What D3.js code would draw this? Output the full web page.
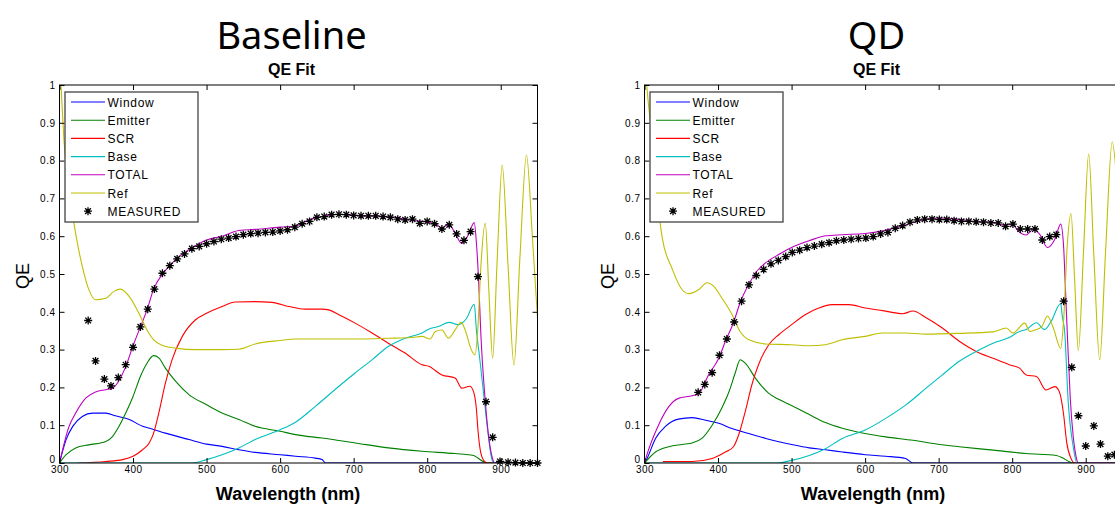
<!DOCTYPE html>
<html><head><meta charset="utf-8">
<script src="https://cdn.jsdelivr.net/npm/d3@7"></script>
<style>body{margin:0;background:#fff;} svg{display:block;}</style>
</head><body><svg id="c" width="1115" height="506"></svg>
<script>
// ---------- text / ticks ----------
const panelTitles = ["Baseline", "QD"];
const subTitle = "QE Fit";
const xLabel = "Wavelength (nm)";
const yLabel = "QE";
const seriesNames = ["Window", "Emitter", "SCR", "Base", "TOTAL", "Ref"];
const measuredName = "MEASURED";
const xTicks = [300, 400, 500, 600, 700, 800, 900];
const xTickLabels = ["300", "400", "500", "600", "700", "800", "900"];
const yTicks = [0, 0.1, 0.2, 0.3, 0.4, 0.5, 0.6, 0.7, 0.8, 0.9, 1];
const yTickLabels = ["0", "0.1", "0.2", "0.3", "0.4", "0.5", "0.6", "0.7", "0.8", "0.9", "1"];
const xDomain = [300, 950];
const yDomain = [0, 1];

// ---------- Baseline panel data [wavelength nm, QE] ----------
const baselineWindow = [[300,0],[309,0.062],[318,0.097],[331,0.123],[345,0.132],[363,0.132],[376,0.125],[395,0.115],[413,0.097],[426,0.09],[444,0.079],[476,0.062],[500,0.05],[521,0.044],[544,0.035],[566,0.028],[600,0.022],[621,0.018],[648,0.013],[657,0.009],[662,0],[950,0]];
const baselineEmitter = [[300,0],[309,0.022],[322,0.04],[340,0.048],[363,0.057],[372,0.07],[381,0.097],[390,0.132],[400,0.176],[410,0.229],[419,0.264],[428,0.284],[435,0.278],[444,0.251],[458,0.216],[476,0.181],[500,0.154],[521,0.132],[544,0.115],[566,0.097],[600,0.084],[621,0.075],[657,0.066],[702,0.053],[747,0.04],[793,0.031],[838,0.025],[863,0.02],[869,0.013],[878,0.002],[882,0],[950,0]];
const baselineSCR = [[325,0],[363,0.004],[386,0.009],[400,0.018],[413,0.035],[422,0.053],[428,0.079],[435,0.132],[444,0.211],[453,0.273],[467,0.335],[485,0.379],[500,0.396],[521,0.414],[539,0.426],[566,0.427],[589,0.425],[612,0.414],[634,0.407],[657,0.407],[666,0.405],[680,0.392],[702,0.37],[725,0.344],[747,0.317],[770,0.291],[793,0.26],[802,0.256],[820,0.233],[838,0.225],[847,0.198],[858,0.203],[863,0.189],[867,0.141],[869,0.088],[873,0.026],[878,0.004],[882,0],[950,0]];
const baselineBase = [[300,0],[480,0],[500,0.009],[521,0.022],[544,0.04],[566,0.062],[600,0.088],[621,0.108],[648,0.15],[680,0.203],[702,0.238],[725,0.273],[747,0.308],[770,0.33],[793,0.344],[802,0.354],[815,0.361],[830,0.372],[842,0.366],[853,0.381],[864,0.42],[867,0.35],[870,0.3],[873,0.25],[878,0.16],[883,0.075],[887,0.018],[890,0],[950,0]];
const baselineTotal = [[300,0],[313,0.097],[322,0.132],[336,0.172],[349,0.188],[363,0.194],[372,0.198],[380,0.215],[390,0.255],[400,0.31],[410,0.36],[419,0.405],[428,0.46],[440,0.5],[451,0.524],[460,0.542],[476,0.564],[500,0.59],[521,0.6],[544,0.615],[566,0.618],[600,0.624],[621,0.627],[639,0.643],[657,0.652],[680,0.658],[702,0.655],[747,0.652],[770,0.645],[793,0.639],[811,0.633],[820,0.621],[829,0.633],[838,0.608],[847,0.581],[856,0.604],[864,0.636],[867,0.58],[870,0.48],[873,0.34],[879,0.163],[883,0.079],[888,0.018],[892,0],[950,0]];
const baselineRef = [[300,1.06],[302,1.0],[306,0.855],[313,0.72],[320,0.63],[325,0.575],[331,0.52],[340,0.458],[349,0.432],[363,0.436],[374,0.454],[383,0.46],[395,0.44],[408,0.396],[419,0.352],[428,0.326],[440,0.311],[458,0.304],[485,0.3],[521,0.3],[544,0.301],[566,0.315],[600,0.324],[621,0.328],[657,0.328],[702,0.328],[747,0.33],[779,0.332],[793,0.335],[804,0.328],[811,0.348],[820,0.352],[829,0.33],[838,0.352],[846,0.372],[853,0.344],[858,0.31],[865,0.286],[869,0.36],[873,0.52],[879,0.634],[884,0.45],[889,0.277],[895,0.53],[902,0.788],[910,0.52],[918,0.259],[926,0.54],[935,0.815],[943,0.6],[951,0.352]];
const baselineMeasured = [[339,0.377],[349,0.27],[361,0.222],[370,0.204],[380,0.226],[390,0.26],[400,0.306],[410,0.36],[420,0.407],[429,0.46],[440,0.502],[450,0.522],[460,0.54],[470,0.553],[480,0.567],[490,0.573],[500,0.58],[510,0.586],[520,0.592],[530,0.595],[540,0.599],[550,0.604],[560,0.607],[570,0.608],[580,0.61],[590,0.611],[600,0.614],[610,0.617],[620,0.624],[630,0.633],[640,0.639],[650,0.65],[660,0.652],[670,0.657],[680,0.658],[690,0.657],[700,0.655],[710,0.654],[720,0.654],[730,0.654],[740,0.652],[750,0.65],[760,0.645],[770,0.643],[780,0.645],[790,0.634],[800,0.639],[810,0.633],[820,0.619],[830,0.63],[840,0.606],[850,0.589],[859,0.612],[869,0.493],[880,0.162],[889,0.068],[899,0.004],[910,0.002],[920,0.001],[930,0],[940,0],[950,0]];

// ---------- QD panel data [wavelength nm, QE] ----------
const qdWindow = [[300,0],[303,0.01],[315,0.065],[328,0.096],[346,0.116],[365,0.12],[383,0.113],[401,0.105],[419,0.091],[442,0.078],[465,0.065],[500,0.049],[524,0.04],[546,0.035],[569,0.029],[600,0.022],[628,0.018],[655,0.012],[665,0],[950,0]];
const qdEmitter = [[300,0],[315,0.029],[333,0.043],[351,0.049],[365,0.053],[378,0.065],[392,0.1],[405,0.145],[415,0.189],[424,0.242],[430,0.273],[437,0.264],[451,0.224],[469,0.184],[483,0.168],[500,0.152],[524,0.128],[546,0.107],[569,0.092],[600,0.078],[628,0.069],[665,0.06],[701,0.049],[728,0.043],[774,0.034],[819,0.025],[860,0.02],[869,0.013],[878,0.003],[882,0],[950,0]];
const qdSCR = [[325,0.004],[365,0.004],[392,0.012],[410,0.029],[421,0.043],[428,0.074],[437,0.136],[446,0.207],[455,0.26],[469,0.313],[483,0.34],[500,0.366],[519,0.393],[537,0.41],[555,0.419],[578,0.419],[600,0.41],[624,0.403],[651,0.395],[665,0.402],[683,0.384],[705,0.357],[728,0.322],[751,0.295],[774,0.277],[796,0.26],[810,0.251],[819,0.233],[833,0.229],[846,0.193],[858,0.202],[864,0.189],[870,0.127],[874,0.056],[880,0.012],[885,0],[950,0]];
const qdBase = [[300,0],[480,0],[500,0.007],[524,0.02],[546,0.038],[569,0.065],[600,0.087],[628,0.118],[655,0.153],[683,0.198],[705,0.233],[728,0.269],[751,0.295],[774,0.317],[796,0.332],[810,0.348],[819,0.353],[833,0.371],[844,0.353],[853,0.375],[866,0.422],[868,0.39],[871.5,0.344],[876,0.167],[883,0.043],[888,0],[950,0]];
const qdTotal = [[300,0],[303,0.02],[319,0.1],[333,0.149],[346,0.171],[365,0.178],[374,0.184],[387,0.233],[401,0.277],[410,0.322],[421,0.371],[430,0.424],[442,0.473],[453,0.508],[465,0.53],[483,0.552],[500,0.57],[524,0.588],[546,0.601],[569,0.604],[600,0.607],[624,0.614],[646,0.625],[665,0.636],[683,0.645],[701,0.648],[728,0.644],[751,0.639],[774,0.637],[787,0.63],[800,0.632],[808,0.614],[819,0.603],[828,0.617],[837,0.606],[848,0.57],[858,0.592],[866,0.632],[870,0.57],[872,0.48],[875,0.34],[879,0.17],[883,0.07],[886,0.026],[890,0],[950,0]];
const qdRef = [[300,1.08],[303,1.0],[308,0.898],[315,0.75],[321,0.64],[324,0.597],[337,0.517],[351,0.459],[360,0.448],[374,0.459],[385,0.477],[394,0.468],[405,0.437],[419,0.393],[430,0.348],[442,0.326],[465,0.315],[500,0.313],[524,0.31],[546,0.313],[569,0.326],[600,0.335],[624,0.344],[655,0.344],[683,0.341],[728,0.343],[774,0.347],[792,0.357],[801,0.344],[817,0.37],[824,0.348],[831,0.352],[840,0.36],[848,0.389],[856,0.357],[866,0.303],[870,0.38],[875,0.58],[880,0.66],[885,0.48],[890,0.297],[897,0.56],[904,0.818],[911,0.55],[919,0.273],[927,0.56],[936,0.85],[943,0.72],[950,0.45]];
const qdMeasured = [[373,0.187],[382,0.208],[392,0.239],[402,0.285],[412,0.328],[422,0.373],[432,0.428],[442,0.471],[452,0.496],[462,0.512],[472,0.527],[482,0.536],[492,0.546],[501,0.557],[511,0.563],[521,0.57],[531,0.574],[541,0.579],[551,0.583],[561,0.588],[571,0.59],[581,0.592],[591,0.594],[601,0.595],[611,0.599],[621,0.606],[631,0.61],[641,0.621],[651,0.628],[661,0.637],[671,0.643],[681,0.645],[691,0.645],[701,0.644],[711,0.644],[721,0.641],[731,0.639],[741,0.639],[751,0.638],[761,0.637],[771,0.635],[781,0.635],[791,0.626],[801,0.632],[811,0.619],[821,0.619],[831,0.619],[841,0.59],[851,0.599],[860,0.604],[870,0.428],[881,0.253],[890,0.125],[900,0.045],[911,0.098],[920,0.05],[930,0.018],[939,0.022]];

// ---------- styling ----------
const seriesColors = ["#0000ff", "#008000", "#ff0000", "#00bfbf", "#bf00bf", "#bfbf00"];
const panels = [
  { title: panelTitles[0], x0: 59.5, series: [baselineWindow, baselineEmitter, baselineSCR, baselineBase, baselineTotal, baselineRef], measured: baselineMeasured },
  { title: panelTitles[1], x0: 644.5, series: [qdWindow, qdEmitter, qdSCR, qdBase, qdTotal, qdRef], measured: qdMeasured }
];
const plotW = 478, yTop = 85, yBot = 463;
const tickFont = "'Liberation Sans', Arial, sans-serif";

const svg = d3.select("#c");
svg.append("rect").attr("width", 1115).attr("height", 506).attr("fill", "#fff");

const asterisk = {
  draw(ctx, size) {
    const r = Math.sqrt(size) / 2, a = r * 0.72;
    ctx.moveTo(-r, 0); ctx.lineTo(r, 0);
    ctx.moveTo(0, -r); ctx.lineTo(0, r);
    ctx.moveTo(-a, -a); ctx.lineTo(a, a);
    ctx.moveTo(-a, a); ctx.lineTo(a, -a);
  }
};
const sym = d3.symbol().type(asterisk).size(64);

panels.forEach((p, pi) => {
  const x = d3.scaleLinear().domain(xDomain).range([p.x0, p.x0 + plotW]);
  const y = d3.scaleLinear().domain(yDomain).range([yBot, yTop]);
  const g = svg.append("g");

  // titles
  g.append("text").attr("x", p.x0 + 232).attr("y", 49).attr("text-anchor", "middle")
    .style("font-family", "'Noto Sans', 'Open Sans', sans-serif").style("font-size", "38px")
    .style("fill", "#000").text(p.title);
  g.append("text").attr("x", p.x0 + 232).attr("y", 75).attr("text-anchor", "middle")
    .style("font-family", "'Liberation Sans', Arial, sans-serif").style("font-size", "16px").style("font-weight", "bold")
    .text(subTitle);

  // clip
  const cid = "clip" + pi;
  svg.append("clipPath").attr("id", cid).append("rect")
    .attr("x", p.x0).attr("y", yTop).attr("width", plotW).attr("height", yBot - yTop);

  // series
  const line = d3.line().x(d => x(d[0])).y(d => y(d[1])).curve(d3.curveMonotoneX);
  const lg = g.append("g").attr("clip-path", `url(#${cid})`);
  p.series.forEach((s, i) => {
    lg.append("path").datum(s).attr("d", line).attr("fill", "none")
      .attr("stroke", seriesColors[i]).attr("stroke-width", 1.1).attr("stroke-linejoin", "round");
  });

  // measured
  g.append("g").selectAll("path").data(p.measured).join("path")
    .attr("transform", d => `translate(${x(d[0])},${y(d[1])})`)
    .attr("d", sym).attr("stroke", "#000").attr("stroke-width", 1.3).attr("fill", "none");

  // axes (inward ticks on all sides)
  const styleAxis = (sel, labels) => {
    sel.select(".domain").remove();
    sel.selectAll("line").attr("stroke", "#000");
    sel.selectAll("text").style("font-family", tickFont).style("font-size", "10px")
      .style("letter-spacing", "0.5px").style("fill", "#000");
    if (!labels) sel.selectAll("text").remove();
  };
  g.append("g").attr("transform", `translate(0,${yBot})`)
    .call(d3.axisBottom(x).tickValues(xTicks).tickFormat((d, i) => xTickLabels[i]).tickSize(-5).tickPadding(3))
    .call(s => styleAxis(s, true));
  g.append("g").attr("transform", `translate(0,${yTop})`)
    .call(d3.axisTop(x).tickValues(xTicks).tickSize(-5))
    .call(s => styleAxis(s, false));
  const yAx = g.append("g").attr("transform", `translate(${p.x0},0)`)
    .call(d3.axisLeft(y).tickValues(yTicks).tickFormat((d, i) => yTickLabels[i]).tickSize(-5).tickPadding(4))
    .call(s => styleAxis(s, true));
  // the "0" label sits just above the "300" label, as in the reference
  yAx.selectAll(".tick").filter(d => d === 0).select("text").attr("dy", "-0.05em");
  g.append("g").attr("transform", `translate(${p.x0 + plotW},0)`)
    .call(d3.axisRight(y).tickValues(yTicks).tickSize(-5))
    .call(s => styleAxis(s, false));
  g.append("rect").attr("x", p.x0).attr("y", yTop).attr("width", plotW).attr("height", yBot - yTop)
    .attr("fill", "none").attr("stroke", "#000").attr("stroke-width", 1);

  // axis labels
  g.append("text").attr("x", p.x0 + 228.5).attr("y", 500).attr("text-anchor", "middle")
    .style("font-family", "'Liberation Sans', Arial, sans-serif").style("font-size", "18px").style("font-weight", "bold")
    .text(xLabel);
  g.append("text").attr("transform", `translate(${p.x0 - 31},276) rotate(-90)`).attr("text-anchor", "middle")
    .style("font-family", "'Liberation Sans', Arial, sans-serif").style("font-size", "18px")
    .text(yLabel);

  // legend
  const lgx = p.x0 + 5.5, lgy = 92;
  const leg = g.append("g");
  leg.append("rect").attr("x", lgx).attr("y", lgy).attr("width", 133).attr("height", 130)
    .attr("fill", "#fff").attr("stroke", "#444").attr("stroke-width", 1.3);
  const rows = seriesNames.concat([measuredName]);
  rows.forEach((name, i) => {
    const ry = 102 + i * 18.2;
    if (i < seriesNames.length) {
      leg.append("line").attr("x1", lgx + 6).attr("x2", lgx + 40).attr("y1", ry).attr("y2", ry)
        .attr("stroke", seriesColors[i]).attr("stroke-width", 1.1);
    } else {
      leg.append("path").attr("transform", `translate(${lgx + 23},${ry})`).attr("d", sym)
        .attr("stroke", "#000").attr("stroke-width", 1.3).attr("fill", "none");
    }
    leg.append("text").attr("x", lgx + 42.5).attr("y", ry + 4.5)
      .style("font-family", tickFont).style("font-size", "12px").style("letter-spacing", "0.7px")
      .text(name);
  });
});
</script></body></html>
